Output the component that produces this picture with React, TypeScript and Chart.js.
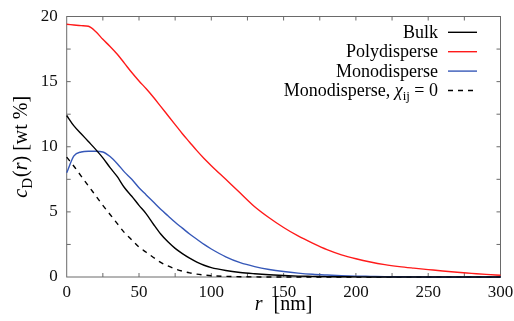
import React, { useEffect, useRef } from "react";
import { Chart, registerables } from "chart.js";

Chart.register(...registerables);

// radius grid [nm]
const rValues = [
  0, 5, 10, 15, 20, 25, 30, 35, 40, 45, 50, 55, 60, 65, 70, 75, 80, 85, 90, 95,
  100, 110, 120, 130, 140, 150, 160, 170, 180, 190, 200, 210, 220, 230, 240,
  250, 260, 270, 280, 290, 300,
];

const bulk = [
  12.4, 11.6, 11.0, 10.4, 9.8, 9.15, 8.4, 7.7, 6.85, 6.2, 5.5, 4.85, 4.05, 3.3,
  2.7, 2.2, 1.8, 1.45, 1.15, 0.9, 0.72, 0.5, 0.35, 0.25, 0.17, 0.11, 0.07, 0.05,
  0.03, 0.02, 0.01, 0, 0, 0, 0, 0, 0, 0, 0, 0, 0,
];

const polydisperse = [
  19.4, 19.35, 19.3, 19.25, 18.85, 18.25, 17.7, 17.1, 16.4, 15.7, 15.05, 14.45,
  13.8, 13.1, 12.4, 11.7, 11.0, 10.35, 9.7, 9.1, 8.55, 7.5, 6.45, 5.4, 4.55,
  3.8, 3.15, 2.6, 2.1, 1.7, 1.4, 1.15, 0.95, 0.8, 0.68, 0.57, 0.46, 0.36, 0.28,
  0.2, 0.13,
];

const monodisperse = [
  8.0, 9.3, 9.6, 9.65, 9.65, 9.6, 9.25, 8.7, 8.05, 7.5, 6.85, 6.3, 5.75, 5.2,
  4.7, 4.2, 3.75, 3.3, 2.9, 2.5, 2.15, 1.55, 1.1, 0.8, 0.58, 0.42, 0.3, 0.21,
  0.15, 0.1, 0.07, 0.05, 0.03, 0.02, 0.01, 0, 0, 0, 0, 0, 0,
];

const monoChi0 = [
  9.2, 8.5, 7.75, 7.0, 6.25, 5.5, 4.8, 4.1, 3.4, 2.85, 2.3, 1.9, 1.5, 1.12,
  0.85, 0.62, 0.45, 0.32, 0.22, 0.15, 0.1, 0.05, 0.02, 0.01, 0, 0, 0, 0, 0, 0,
  0, 0, 0, 0, 0, 0, 0, 0, 0, 0, 0,
];

const xTickValues = [0, 50, 100, 150, 200, 250, 300];
const yTickValues = [0, 5, 10, 15, 20];

const COLORS = {
  bulk: "#000000",
  poly: "#ff1a1a",
  mono: "#3658b8",
  chi0: "#000000",
  frame: "#6a6a6a",
};

const SERIF = '"Liberation Serif", "DejaVu Serif", serif';

const toPoints = (ys: number[]) => rValues.map((r, i) => ({ x: r, y: ys[i] }));

const framePlugin = {
  id: "frameTicks",
  beforeDatasetsDraw(chart: any) {
    const { ctx, chartArea, scales } = chart;
    const { left, right, top, bottom } = chartArea;
    ctx.save();
    ctx.strokeStyle = COLORS.frame;
    ctx.lineWidth = 1;
    ctx.strokeRect(left, top, right - left, bottom - top);
    const len = 4;
    ctx.beginPath();
    for (let v = 25; v < 300; v += 25) {
      const px = scales.x.getPixelForValue(v);
      ctx.moveTo(px, bottom);
      ctx.lineTo(px, bottom - len);
      ctx.moveTo(px, top);
      ctx.lineTo(px, top + len);
    }
    for (let v = 2.5; v < 20; v += 2.5) {
      const py = scales.y.getPixelForValue(v);
      ctx.moveTo(left, py);
      ctx.lineTo(left + len, py);
      ctx.moveTo(right, py);
      ctx.lineTo(right - len, py);
    }
    ctx.stroke();
    ctx.restore();
  },
  afterDraw(chart: any) {
    const { ctx, chartArea } = chart;
    ctx.save();
    ctx.fillStyle = "#000";
    ctx.textBaseline = "alphabetic";

    // x-axis title: r [nm]
    const xMid = (chartArea.left + chartArea.right) / 2;
    const fItal = `italic 20px ${SERIF}`;
    const fUp = `20px ${SERIF}`;
    ctx.font = fItal;
    const wr = ctx.measureText("r").width;
    ctx.font = fUp;
    const gap = 11;
    const wnm = ctx.measureText("[nm]").width;
    const total = wr + gap + wnm;
    const x0 = xMid - total / 2;
    const yb = 310;
    ctx.font = fItal;
    ctx.textAlign = "left";
    ctx.fillText("r", x0, yb);
    ctx.font = fUp;
    ctx.fillText("[nm]", x0 + wr + gap, yb);

    // y-axis title: c_D(r) [wt %]
    const yMid = (chartArea.top + chartArea.bottom) / 2;
    const pieces: { t: string; f: string; dy: number }[] = [
      { t: "c", f: `italic 20px ${SERIF}`, dy: 0 },
      { t: "D", f: `15px ${SERIF}`, dy: 5 },
      { t: "(", f: `20px ${SERIF}`, dy: 0 },
      { t: "r", f: `italic 20px ${SERIF}`, dy: 0 },
      { t: ")", f: `20px ${SERIF}`, dy: 0 },
      { t: " [wt %]", f: `20px ${SERIF}`, dy: 0 },
    ];
    let tw = 0;
    const widths = pieces.map((p) => {
      ctx.font = p.f;
      const w = ctx.measureText(p.t).width + (p.t === "D" ? 1 : 0);
      tw += w;
      return w;
    });
    ctx.translate(27, yMid);
    ctx.rotate(-Math.PI / 2);
    let cx = -tw / 2;
    pieces.forEach((p, i) => {
      ctx.font = p.f;
      ctx.fillText(p.t, cx, p.dy);
      cx += widths[i];
    });
    ctx.restore();

    // legend
    ctx.save();
    const textRight = 438;
    const lx0 = 448;
    const lx1 = 477;
    const rows = [32.3, 51.7, 71.1, 90.5];
    const entries = [
      { label: "Bulk", color: COLORS.bulk },
      { label: "Polydisperse", color: COLORS.poly },
      { label: "Monodisperse", color: COLORS.mono },
    ];
    ctx.fillStyle = "#000";
    ctx.textBaseline = "alphabetic";
    entries.forEach((e, i) => {
      ctx.font = `18px ${SERIF}`;
      ctx.textAlign = "right";
      ctx.fillText(e.label, textRight, rows[i] + 5.5);
      ctx.strokeStyle = e.color;
      ctx.lineWidth = 1.4;
      ctx.setLineDash([]);
      ctx.beginPath();
      ctx.moveTo(lx0, rows[i]);
      ctx.lineTo(lx1, rows[i]);
      ctx.stroke();
    });
    // fourth entry with chi_ij
    const segs = [
      { t: "Monodisperse, ", f: `18px ${SERIF}`, dy: 0 },
      { t: "χ", f: `italic 18px ${SERIF}`, dy: 0 },
      { t: "ij", f: `13px ${SERIF}`, dy: 4 },
      { t: " = 0", f: `18px ${SERIF}`, dy: 0 },
    ];
    let sw = 0;
    const sws = segs.map((s) => {
      ctx.font = s.f;
      const w = ctx.measureText(s.t).width;
      sw += w;
      return w;
    });
    let sx = textRight - sw;
    ctx.textAlign = "left";
    segs.forEach((s, i) => {
      ctx.font = s.f;
      ctx.fillText(s.t, sx, rows[3] + 5.5 + s.dy);
      sx += sws[i];
    });
    ctx.strokeStyle = COLORS.chi0;
    ctx.lineWidth = 1.4;
    ctx.setLineDash([5, 5]);
    ctx.beginPath();
    ctx.moveTo(lx0, rows[3]);
    ctx.lineTo(lx1, rows[3]);
    ctx.stroke();
    ctx.restore();
  },
};

export default function App() {
  const canvasRef = useRef<HTMLCanvasElement | null>(null);

  useEffect(() => {
    document.body.style.margin = "0";
    const canvas = canvasRef.current;
    if (!canvas) return;
    const common = {
      pointRadius: 0,
      borderWidth: 1.4,
      fill: false,
      cubicInterpolationMode: "monotone" as const,
      clip: 4,
    };
    const chart = new Chart(canvas, {
      type: "line",
      data: {
        datasets: [
          { label: "Bulk", data: toPoints(bulk), borderColor: COLORS.bulk, ...common },
          { label: "Polydisperse", data: toPoints(polydisperse), borderColor: COLORS.poly, ...common },
          { label: "Monodisperse", data: toPoints(monodisperse), borderColor: COLORS.mono, ...common },
          {
            label: "Monodisperse, χij = 0",
            data: toPoints(monoChi0),
            borderColor: COLORS.chi0,
            borderDash: [5, 5],
            ...common,
          },
        ],
      },
      options: {
        animation: false,
        responsive: false,
        maintainAspectRatio: false,
        layout: { padding: { left: 0, right: 13.5, top: 16.5, bottom: 0 } },
        plugins: {
          legend: { display: false },
          tooltip: { enabled: false },
        },
        scales: {
          x: {
            type: "linear",
            min: 0,
            max: 300,
            grid: { display: false, drawTicks: false },
            border: { display: false },
            afterFit: (s: any) => {
              s.height = 44;
              s.paddingLeft = 0;
              s.paddingRight = 0;
            },
            afterBuildTicks: (s: any) => {
              s.ticks = xTickValues.map((v) => ({ value: v }));
            },
            ticks: {
              padding: 5,
              color: "#111",
              font: { family: SERIF, size: 17 },
              maxRotation: 0,
            },
          },
          y: {
            type: "linear",
            min: 0,
            max: 20,
            grid: { display: false, drawTicks: false },
            border: { display: false },
            afterFit: (s: any) => {
              s.width = 66.7;
              s.paddingTop = 0;
              s.paddingBottom = 0;
            },
            afterBuildTicks: (s: any) => {
              s.ticks = yTickValues.map((v) => ({ value: v }));
            },
            ticks: {
              padding: 9,
              color: "#111",
              font: { family: SERIF, size: 17 },
            },
          },
        },
      },
      plugins: [framePlugin],
    });
    return () => chart.destroy();
  }, []);

  return (
    <div style={{ position: "absolute", left: 0, top: 0, width: 514, height: 321 }}>
      <canvas ref={canvasRef} width={514} height={321} style={{ width: 514, height: 321 }} />
    </div>
  );
}
